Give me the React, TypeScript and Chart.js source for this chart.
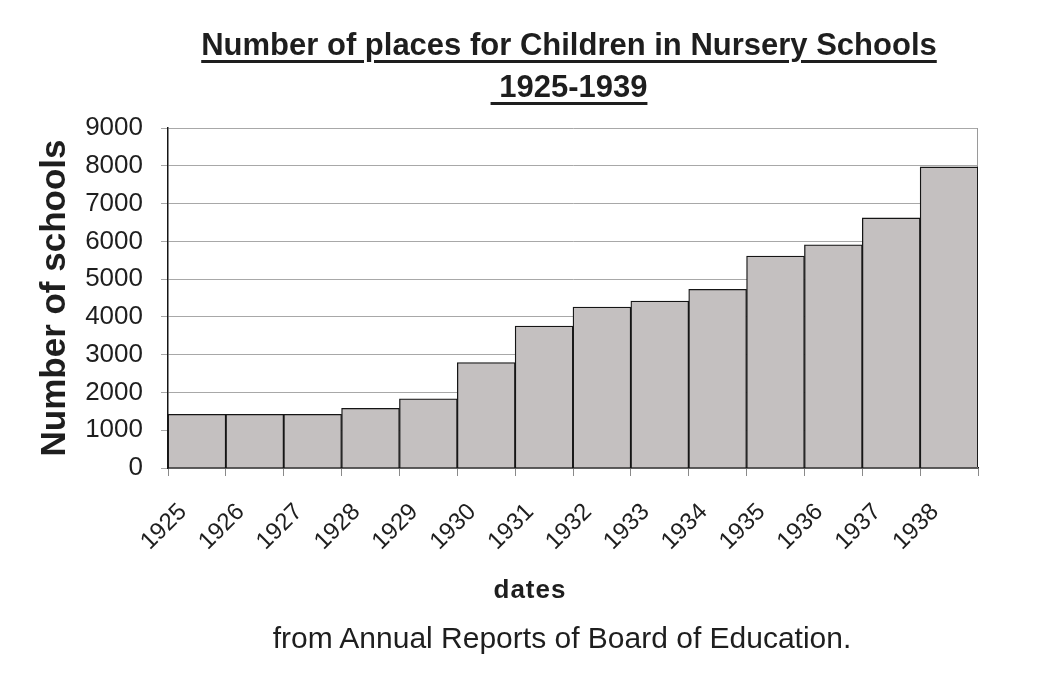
import React, { useEffect, useRef } from "react";
import { Chart, registerables } from "chart.js";

Chart.register(...registerables);

const years = ["1925", "1926", "1927", "1928", "1929", "1930", "1931", "1932", "1933", "1934", "1935", "1936", "1937", "1938"];
const places = [1420, 1420, 1420, 1580, 1830, 2790, 3760, 4260, 4420, 4730, 5610, 5910, 6620, 7970];
const yMin = 0;
const yMax = 9000;
const yStep = 1000;
const titleLines = ["Number of places for Children in Nursery Schools", "\u00a01925-1939"];
const yTitle = "Number of schools";
const xTitle = "dates";
const sourceNote = "from Annual Reports of Board of Education.";

const FONT = "'Liberation Sans', Arial, Helvetica, sans-serif";
const INK = "#1e1e1e";

const framePlugin = {
  id: "frame",
  beforeDatasetsDraw(chart: any) {
    const { ctx, chartArea } = chart;
    const { top, right, bottom } = chartArea;
    ctx.save();
    ctx.strokeStyle = "#9a9a9a";
    ctx.lineWidth = 1;
    ctx.beginPath();
    ctx.moveTo(right - 0.5, top);
    ctx.lineTo(right - 0.5, bottom);
    ctx.stroke();
    ctx.restore();
  },
};

export default function App() {
  const ref = useRef<HTMLCanvasElement | null>(null);

  useEffect(() => {
    if (!ref.current) return;
    const chart = new Chart(ref.current, {
      type: "bar",
      data: {
        labels: years,
        datasets: [
          {
            data: places,
            backgroundColor: "rgb(196,192,192)",
            borderColor: "#151515",
            borderWidth: 1.3,
            categoryPercentage: 1,
            barPercentage: 1,
          },
        ],
      },
      options: {
        responsive: false,
        animation: false,
        devicePixelRatio: 1,
        layout: { padding: { top: 128, right: 86, left: 0, bottom: 0 } },
        plugins: {
          legend: { display: false },
          tooltip: { enabled: false },
          title: { display: false },
        },
        scales: {
          x: {
            type: "category",
            offset: true,
            grid: {
              offset: true,
              drawOnChartArea: false,
              drawTicks: true,
              tickLength: 8,
              color: "#8a8a8a",
            },
            border: { color: "#151515", width: 1.5 },
            ticks: {
              autoSkip: false,
              minRotation: 45,
              maxRotation: 45,
              labelOffset: -14,
              padding: 22,
              color: INK,
              font: { family: FONT, size: 24 },
            },
            title: { display: false },
            afterFit(scale: any) {
              scale.height = 229;
            },
          },
          y: {
            min: yMin,
            max: yMax,
            ticks: {
              stepSize: yStep,
              padding: 18,
              color: INK,
              font: { family: FONT, size: 26 },
              callback: (v: any) => String(v),
            },
            grid: { color: "#a8a8a8", lineWidth: 1, tickLength: 7 },
            border: { color: "#151515", width: 1.5 },
            title: {
              display: true,
              text: yTitle,
              color: INK,
              font: { family: FONT, size: 35, weight: "bold" },
              padding: { top: 34, bottom: 0 },
            },
            afterFit(scale: any) {
              scale.width = 168;
            },
          },
        },
      } as any,
      plugins: [framePlugin],
    });
    return () => chart.destroy();
  }, []);

  return (
    <div
      style={{
        position: "absolute",
        left: 0,
        top: 0,
        width: 1064,
        height: 697,
        background: "#fff",
        overflow: "hidden",
        fontFamily: FONT,
        color: INK,
      }}
    >
      <canvas ref={ref} width={1064} height={697} style={{ display: "block", width: 1064, height: 697 }} />
      {titleLines.map((line, i) => (
        <div
          key={i}
          style={{
            position: "absolute",
            left: 69,
            width: 1000,
            top: 24 + i * 42,
            lineHeight: "42px",
            textAlign: "center",
            fontSize: 31,
            fontWeight: "bold",
            whiteSpace: "pre",
          }}
        >
          <span style={{ textDecoration: "underline", textDecorationThickness: 3, textUnderlineOffset: 5 }}>{line}</span>
        </div>
      ))}
      <div
        style={{
          position: "absolute",
          left: 30,
          width: 1000,
          top: 573,
          lineHeight: "32px",
          textAlign: "center",
          fontSize: 26,
          fontWeight: "bold",
          letterSpacing: 1,
        }}
      >
        {xTitle}
      </div>
      <div
        style={{
          position: "absolute",
          left: 62,
          width: 1000,
          top: 619,
          lineHeight: "38px",
          textAlign: "center",
          fontSize: 30,
        }}
      >
        {sourceNote}
      </div>
    </div>
  );
}
